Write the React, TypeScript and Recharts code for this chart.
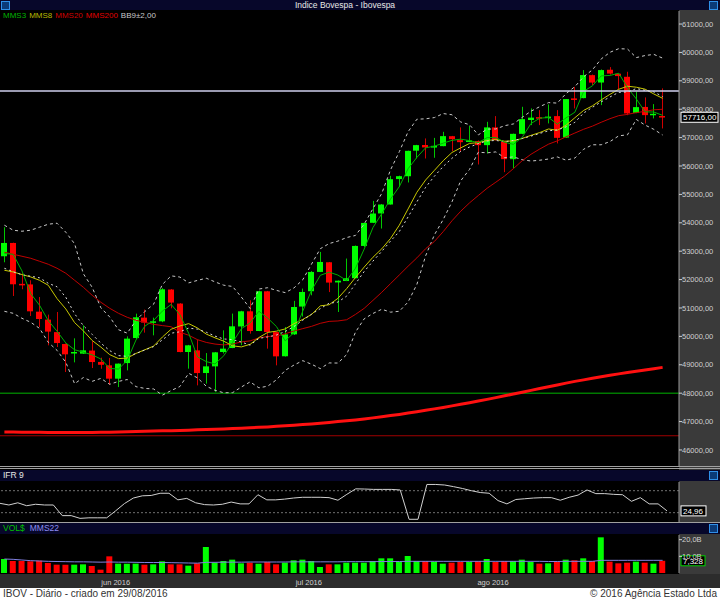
import React from 'react';
import {
  ComposedChart,
  LineChart,
  Bar,
  Line,
  Cell,
  XAxis,
  YAxis,
  ReferenceLine,
} from 'recharts';

// trading days shown (13/05/2016 .. 29/08/2016)
const DATES = [
  '13/05', '16/05', '17/05', '18/05', '19/05', '20/05', '23/05', '24/05', '25/05', '27/05', '30/05', '31/05',
  '01/06', '02/06', '03/06', '06/06', '07/06', '08/06', '09/06', '10/06', '13/06', '14/06', '15/06', '16/06',
  '17/06', '20/06', '21/06', '22/06', '23/06', '24/06', '27/06', '28/06', '29/06', '30/06',
  '01/07', '04/07', '05/07', '06/07', '07/07', '08/07', '11/07', '12/07', '13/07', '14/07', '15/07', '18/07',
  '19/07', '20/07', '21/07', '22/07', '25/07', '26/07', '27/07', '28/07', '29/07',
  '01/08', '02/08', '03/08', '04/08', '05/08', '08/08', '09/08', '10/08', '11/08', '12/08', '15/08', '16/08',
  '17/08', '18/08', '19/08', '22/08', '23/08', '24/08', '25/08', '26/08', '29/08',
];

const OPEN = [
  52822, 53290, 51850, 51830, 50870, 50591, 50150, 49731, 49400, 49392, 49500, 49100,
  48980, 48511, 49060, 49942, 50660, 50490, 50530, 51650, 51155, 49450, 49508, 48710,
  48944, 49450, 49590, 50350, 50883, 50190, 51588, 50150, 49300, 50072,
  51050, 51590, 52270, 52610, 51900, 51950, 52050, 53185, 54000, 54330, 54645, 55540,
  55640, 56540, 56740, 56650, 56700, 57050, 56910, 56850, 56880,
  56735, 57360, 56858, 56240, 57133, 57620, 57720, 57690, 57757, 57000, 58380, 58391,
  59200, 58940, 59390, 59250, 59142, 57873, 58080, 57790, 57760,
];
const HIGH = [
  53844, 53300, 52223, 51976, 51387, 50767, 50859, 49750, 49931, 50390, 49826, 49250,
  49240, 49045, 50000, 50800, 50943, 50660, 51700, 51665, 51170, 49700, 49886, 49413,
  49450, 50213, 50802, 50900, 51271, 51610, 51600, 50160, 50330, 51250,
  51683, 52300, 52974, 52620, 51970, 52741, 53200, 54000, 54771, 54660, 55653, 55660,
  56540, 56745, 56971, 56990, 57204, 57060, 57359, 57415, 56900,
  57556, 57757, 56865, 57140, 58085, 58028, 57968, 58169, 57968, 58360, 58790, 59378,
  59220, 59400, 59484, 59260, 59319, 58614, 58416, 58180, 58733,
];
const LOW = [
  52610, 51423, 51659, 50718, 50330, 49685, 49625, 48744, 49085, 49380, 48885, 48860,
  48299, 48215, 48803, 49900, 50132, 50037, 50500, 50989, 49440, 48863, 48275, 48335,
  48039, 49400, 49585, 49690, 50097, 50185, 49568, 48980, 49290, 50050,
  50700, 51447, 52265, 51560, 50859, 51945, 52045, 53150, 53990, 53798, 54640, 55265,
  55420, 56266, 56265, 56290, 56695, 56523, 56500, 56840, 56054,
  56442, 56900, 55783, 55920, 57120, 57440, 57440, 57500, 56795, 56990, 58028, 58385,
  58850, 58145, 59220, 58709, 57790, 57860, 57500, 57676, 57323,
];
const CLOSE = [
  53290, 51835, 51800, 50883, 50612, 50168, 49766, 49368, 49450, 49508, 49096, 49000,
  48511, 49040, 49921, 50672, 50485, 50530, 51659, 51190, 49449, 49685, 48708, 48944,
  49438, 49568, 50354, 50883, 50189, 51588, 50154, 49297, 50072, 51035,
  51564, 52269, 52621, 51895, 51960, 52047, 53185, 53996, 54327, 54644, 55536, 55642,
  56534, 56735, 56654, 56710, 57052, 56946, 56840, 56900, 56735,
  57360, 56911, 56241, 57133, 57651, 57704, 57690, 57740, 56992, 58356, 58330, 59202,
  58938, 59378, 59255, 59167, 57852, 58074, 57792, 57840, 57716,
];

const MMS3 = [
  52920, 52890, 52308, 51506, 51098, 50554, 50182, 49767, 49528, 49442, 49351, 49201,
  48869, 48850, 49157, 49878, 50359, 50562, 50891, 51126, 50766, 50108, 49281, 49112,
  49030, 49317, 49787, 50268, 50475, 50887, 50644, 50346, 49841, 50135,
  50890, 51623, 52151, 52262, 52159, 51967, 52397, 53076, 53836, 54322, 54836, 55274,
  55904, 56304, 56641, 56700, 56805, 56903, 56946, 56895, 56825,
  56998, 57002, 56837, 56762, 57008, 57496, 57682, 57711, 57474, 57696, 57893, 58629,
  58823, 59173, 59190, 59267, 58758, 58364, 57906, 57902, 57783,
];
const MMS8 = [
  52328, 52270, 52177, 52093, 51976, 51800, 51331, 50965, 50485, 50194, 49856, 49621,
  49358, 49217, 49237, 49400, 49529, 49657, 49977, 50251, 50368, 50449, 50297, 50081,
  49950, 49830, 49667, 49629, 49721, 49959, 50140, 50184, 50263, 50447,
  50598, 50771, 51075, 51113, 51339, 51683, 52072, 52442, 52788, 53084, 53449, 53917,
  54489, 55075, 55509, 55848, 56188, 56476, 56639, 56796, 56822,
  56900, 56932, 56873, 56883, 56971, 57079, 57178, 57304, 57258, 57438, 57700, 57958,
  58119, 58328, 58524, 58702, 58810, 58775, 58707, 58537, 58384,
];
const MMS20 = [
  52963, 52892, 52822, 52751, 52646, 52540, 52399, 52223, 51976, 51729, 51447, 51200,
  50989, 50813, 50672, 50566, 50495, 50425, 50380, 50339, 50147, 50040, 49885, 49788,
  49729, 49699, 49729, 49805, 49842, 49946, 49998, 50013, 50091, 50191,
  50273, 50353, 50460, 50528, 50543, 50586, 50773, 50988, 51269, 51554, 51859, 52163,
  52472, 52765, 53088, 53344, 53689, 54071, 54409, 54702, 54961,
  55216, 55431, 55648, 55907, 56187, 56413, 56598, 56769, 56886, 57027, 57161, 57294,
  57404, 57540, 57667, 57773, 57818, 57880, 57925, 57980, 57998,
];
const MMS200 = [
  46636, 46632, 46628, 46624, 46620, 46618, 46616, 46615, 46616, 46617, 46618, 46622,
  46628, 46635, 46644, 46653, 46659, 46666, 46673, 46680, 46688, 46698, 46708, 46719,
  46730, 46741, 46754, 46768, 46782, 46797, 46812, 46832, 46852, 46874,
  46896, 46918, 46944, 46971, 46999, 47028, 47059, 47094, 47130, 47170, 47210, 47252,
  47298, 47345, 47395, 47447, 47499, 47553, 47608, 47664, 47722,
  47781, 47843, 47906, 47970, 48034, 48098, 48162, 48226, 48290, 48353, 48416, 48469,
  48522, 48575, 48628, 48680, 48725, 48770, 48815, 48862, 48909,
];
const BB_UP = [
  53915, 53739, 53703, 53739, 53844, 53950, 53985, 53668, 53261, 52205, 51729, 51004,
  50685, 50235, 50113, 50565, 50875, 51133, 51830, 52132, 52089, 51884, 51972, 52049,
  51919, 51802, 51758, 51385, 50983, 51667, 51714, 51620, 51540, 51707,
  51995, 52547, 53088, 53268, 53355, 53481, 53555, 53956, 54499, 55036, 55865, 56504,
  57207, 57648, 57662, 57706, 57847, 57805, 57550, 57454, 57095,
  57300, 57305, 57420, 57482, 57715, 57929, 58090, 58233, 58216, 58552, 58794, 59142,
  59386, 59770, 60004, 60132, 60119, 59818, 59890, 59931, 59800,
];
const BB_MID = [
  52399, 52276, 52170, 52118, 52064, 51870, 51747, 51377, 50797, 50377, 50072, 49761,
  49498, 49323, 49296, 49396, 49520, 49640, 49879, 50112, 50162, 50292, 50255, 50147,
  50010, 49908, 49888, 49802, 49691, 49929, 49981, 50046, 50171, 50349,
  50571, 50783, 50977, 51166, 51207, 51418, 51850, 52286, 52652, 52994, 53357, 53692,
  54208, 54738, 55250, 55642, 55982, 56273, 56517, 56668, 56790,
  56881, 56901, 56855, 56902, 56969, 57053, 57147, 57241, 57269, 57380, 57537, 57866,
  58067, 58259, 58431, 58595, 58608, 58728, 58665, 58611, 58446,
];
const BB_LOW = [
  50883, 50813, 50637, 50496, 50284, 49790, 49509, 49086, 48333, 48551, 48417, 48520,
  48313, 48414, 48481, 48229, 48167, 48149, 47930, 48092, 48235, 48700, 48540, 48245,
  48101, 48014, 48018, 48217, 48397, 48189, 48246, 48471, 48803, 48991,
  49145, 49019, 48865, 49065, 49061, 49357, 50147, 50620, 50807, 50956, 50853, 50884,
  51211, 51832, 52840, 53578, 54115, 54739, 55483, 55881, 56485,
  56464, 56497, 56290, 56322, 56223, 56175, 56203, 56247, 56320, 56206, 56280, 56590,
  56748, 56748, 56860, 57062, 57099, 57640, 57442, 57291, 57093,
];

const IFR9 = [
  45.5, 41, 47, 39, 43, 41, 41, 12, 12, 4.5, 6, 6,
  6, 25, 45, 60, 66, 67, 73, 73, 55, 59, 47, 42,
  41, 43, 49, 44, 44, 69, 55, 55, 57, 60,
  62, 62, 62, 61, 54, 70, 85, 84.5, 83.5, 83.5, 83.5, 82,
  2, 2, 97, 97, 95.5, 91, 86, 80, 75,
  73, 53, 44, 56, 58, 60, 61, 61, 54, 62, 68, 82,
  72, 72, 70, 69, 51, 61, 44, 44, 24.96,
];

// financial volume, billions
const VOLUME = [
  8.4, 7.2, 7.2, 7.0, 7.4, 6.0, 5.0, 5.0, 5.0, 5.2, 4.2, 2.0,
  10.0, 5.6, 5.6, 5.6, 5.0, 5.2, 7.0, 5.2, 5.2, 4.4, 5.8, 15.6,
  6.2, 7.2, 8.0, 5.8, 6.2, 5.6, 6.6, 5.2, 6.2, 7.6,
  8.0, 7.2, 3.6, 5.2, 5.2, 6.2, 6.2, 6.2, 7.2, 8.8, 8.8, 6.6,
  10.2, 7.2, 7.2, 6.8, 5.6, 6.2, 6.6, 6.8, 7.2,
  8.4, 6.6, 7.2, 7.2, 8.0, 6.6, 5.6, 5.8, 6.8, 8.0, 7.6, 8.8,
  7.2, 21.4, 6.8, 5.8, 6.2, 6.8, 6.2, 5.6, 7.328,
];
const VOL_MMS22 = [
  8.4, 8.2, 7.8, 7.4, 7.2, 7.0, 6.9, 6.8, 6.7, 6.7, 6.6, 6.5,
  6.6, 6.5, 6.5, 6.4, 6.3, 6.3, 6.3, 6.2, 6.1, 6.0, 5.9, 6.4,
  6.4, 6.5, 6.5, 6.5, 6.6, 6.6, 6.6, 6.6, 6.6, 6.7,
  6.7, 6.7, 6.7, 6.7, 6.7, 6.8, 6.8, 6.8, 6.8, 6.9, 6.9, 6.9,
  7.0, 7.0, 7.0, 7.0, 7.0, 7.0, 7.0, 7.0, 7.0,
  7.0, 7.0, 7.0, 7.0, 7.0, 7.0, 7.0, 6.9, 6.9, 7.0, 7.0, 7.0,
  7.0, 7.6, 7.6, 7.6, 7.6, 7.6, 7.6, 7.6, 7.6,
];

const PRICE_TICKS = [46000, 47000, 48000, 49000, 50000, 51000, 52000, 53000,
  54000, 55000, 56000, 57000, 58000, 59000, 60000, 61000];
const MONTH_TICKS = ['01/06', '01/07', '01/08'];
const MONTH_LABELS: Record<string, string> = { '01/06': 'jun 2016', '01/07': 'jul 2016', '01/08': 'ago 2016' };

const LAST_PRICE = 57716;
const LAST_IFR = 24.96;
const LAST_VOL = 7.328;
const LEVEL_HIGH = 58640;
const LEVEL_SUPPORT = 48000;
const LEVEL_LOW = 46500;

const FONT = "'Liberation Sans', Arial, sans-serif";
const NAVY = '#07072a';
const PANEL_GREY = '#3a3a3a';
const AXIS_TEXT = '#d0d0d0';
const UP = '#00ff00';
const DOWN = '#ff0000';

const rows = DATES.map((d, i) => ({
  d,
  o: OPEN[i],
  h: HIGH[i],
  l: LOW[i],
  c: CLOSE[i],
  range: [LOW[i], HIGH[i]],
  m3: MMS3[i],
  m8: MMS8[i],
  m20: MMS20[i],
  m200: MMS200[i],
  bu: BB_UP[i],
  bm: BB_MID[i],
  bl: BB_LOW[i],
  ifr: IFR9[i],
  vol: VOLUME[i],
  vmm: VOL_MMS22[i],
}));

const X_PAD = { left: 0, right: 12 };

function Candle(props: any) {
  const { x, y, width, height, payload } = props;
  if (!payload) return null;
  const top = height < 0 ? y + height : y;
  const hgt = Math.abs(height);
  const { o, h, l, c } = payload;
  const k = h > l ? hgt / (h - l) : 0;
  const yO = top + (h - o) * k;
  const yC = top + (h - c) * k;
  const up = c >= o;
  const cx = Math.round(x + width / 2) + 0.5;
  return (
    <g>
      <line x1={cx} x2={cx} y1={top} y2={top + hgt} stroke={up ? '#00c800' : '#d00000'} strokeWidth={1} />
      <rect
        x={Math.round(x)}
        y={Math.min(yO, yC)}
        width={width}
        height={Math.max(1.5, Math.abs(yO - yC))}
        fill={up ? UP : DOWN}
      />
    </g>
  );
}

function ValueTag(props: any) {
  const { viewBox, text, border, w } = props;
  if (!viewBox) return null;
  const x = viewBox.x + viewBox.width + 2;
  const y = viewBox.y;
  return (
    <g>
      <rect x={x} y={y - 5} width={w} height={10} fill="#000" stroke={border} strokeWidth={1} />
      <text x={x + 2} y={y + 3} fill="#fff" fontSize={8} fontFamily={FONT}>{text}</text>
    </g>
  );
}

function MonthTick(props: any) {
  const { x, y, payload } = props;
  return (
    <text x={x + 6} y={y + 4} fill={AXIS_TEXT} fontSize={7.5} fontFamily={FONT} textAnchor="middle">
      {MONTH_LABELS[payload.value]}
    </text>
  );
}

function fmtPrice(v: number) {
  return v + ',00';
}

function Icon({ left, top }: { left: number; top: number }) {
  return (
    <div style={{
      position: 'absolute', left, top, width: 7, height: 7,
      border: '1px solid #2f8fe8', background: '#0b3a78',
    }} />
  );
}

function TitleBar({ top, height, children }: { top: number; height: number; children?: React.ReactNode }) {
  return (
    <div style={{
      position: 'absolute', left: 0, top, width: 720, height, background: NAVY,
      fontSize: 8.5, lineHeight: `${height}px`, color: '#e8e8e8', whiteSpace: 'nowrap',
    }}>
      {children}
      <Icon left={709} top={Math.round((height - 9) / 2)} />
    </div>
  );
}

const axisTick = { fill: AXIS_TEXT, fontSize: 7.5, fontFamily: FONT };

export default function App() {
  return (
    <div style={{
      position: 'absolute', left: 0, top: 0, width: 720, height: 600, background: '#000',
      overflow: 'hidden', fontFamily: FONT,
    }}>
      {/* grey axis strip on the right and under the panels */}
      <div style={{ position: 'absolute', left: 679, top: 10, width: 41, height: 578, background: PANEL_GREY }} />
      <div style={{ position: 'absolute', left: 0, top: 574, width: 720, height: 14, background: '#2c2c2c' }} />

      <TitleBar top={0} height={10}>
        <Icon left={1} top={1} />
        <span style={{ position: 'absolute', left: 0, width: 690, textAlign: 'center' }}>Indice Bovespa - Ibovespa</span>
      </TitleBar>

      {/* price panel */}
      <div style={{ position: 'absolute', left: 0, top: 10 }}>
        <ComposedChart width={720} height={458} data={rows} margin={{ top: 1, right: 0, bottom: 1, left: 0 }}>
          <XAxis dataKey="d" hide padding={X_PAD} />
          <YAxis
            orientation="right"
            width={41}
            domain={[45400, 61459]}
            ticks={PRICE_TICKS}
            tickFormatter={fmtPrice}
            tick={axisTick}
            tickSize={3}
            tickMargin={0}
            tickLine={{ stroke: AXIS_TEXT }}
            axisLine={{ stroke: '#9a9a9a' }}
            allowDataOverflow
          />
          <ReferenceLine y={LEVEL_SUPPORT} stroke="#00b400" strokeWidth={1} />
          <ReferenceLine y={LEVEL_LOW} stroke="#a00000" strokeWidth={1} />
          <Line type="linear" dataKey="m200" stroke="#ff1010" strokeWidth={3} dot={false} activeDot={false} isAnimationActive={false} />
          <Bar dataKey="range" barSize={6} shape={<Candle />} isAnimationActive={false} />
          <Line type="linear" dataKey="bu" stroke="#c8c8c8" strokeWidth={1} strokeDasharray="3 3" dot={false} activeDot={false} isAnimationActive={false} />
          <Line type="linear" dataKey="bl" stroke="#c8c8c8" strokeWidth={1} strokeDasharray="3 3" dot={false} activeDot={false} isAnimationActive={false} />
          <Line type="linear" dataKey="m20" stroke="#c00000" strokeWidth={1} dot={false} activeDot={false} isAnimationActive={false} />
          <Line type="linear" dataKey="m8" stroke="#c8c800" strokeWidth={1} dot={false} activeDot={false} isAnimationActive={false} />
          <Line type="linear" dataKey="bm" stroke="#d8d8d8" strokeWidth={1} strokeDasharray="2 3" dot={false} activeDot={false} isAnimationActive={false} />
          <Line type="linear" dataKey="m3" stroke="#00b000" strokeWidth={1} dot={false} activeDot={false} isAnimationActive={false} />
          <ReferenceLine y={LEVEL_HIGH} stroke="#cfcfee" strokeWidth={1.5} />
          <ReferenceLine
            y={LAST_PRICE}
            stroke="none"
            label={<ValueTag text={fmtPrice(LAST_PRICE)} border="#ffffff" w={37} />}
          />
        </ComposedChart>
      </div>

      {/* legend */}
      <div style={{ position: 'absolute', left: 3, top: 11, fontSize: 8, lineHeight: '10px', whiteSpace: 'nowrap' }}>
        <span style={{ color: '#00b400' }}>MMS3</span>
        <span style={{ color: '#b8b800', marginLeft: 3 }}>MMS8</span>
        <span style={{ color: '#d00000', marginLeft: 3 }}>MMS20</span>
        <span style={{ color: '#e00000', marginLeft: 3 }}>MMS200</span>
        <span style={{ color: '#c8c8c8', marginLeft: 3 }}>BB9±2,00</span>
      </div>

      {/* separator */}
      <div style={{ position: 'absolute', left: 0, top: 466, width: 720, height: 1, background: '#a0a0a0' }} />
      <div style={{ position: 'absolute', left: 0, top: 468, width: 720, height: 1, background: '#a0a0a0' }} />

      <TitleBar top={470} height={11}>
        <span style={{ position: 'absolute', left: 3 }}>IFR 9</span>
      </TitleBar>

      {/* IFR panel */}
      <div style={{ position: 'absolute', left: 0, top: 482 }}>
        <LineChart width={720} height={40} data={rows} margin={{ top: 0, right: 0, bottom: 0, left: 0 }}>
          <XAxis dataKey="d" hide padding={X_PAD} />
          <YAxis
            orientation="right"
            width={41}
            domain={[-5.4, 103.7]}
            ticks={[80]}
            tickFormatter={(v: number) => v.toFixed(2).replace('.', ',')}
            tick={axisTick}
            tickSize={3}
            tickMargin={0}
            tickLine={{ stroke: AXIS_TEXT }}
            axisLine={{ stroke: '#9a9a9a' }}
          />
          <ReferenceLine y={80} stroke="#707070" strokeDasharray="2 2" />
          <ReferenceLine y={20} stroke="#707070" strokeDasharray="2 2" />
          <Line type="linear" dataKey="ifr" stroke="#d0d0d0" strokeWidth={1} dot={false} activeDot={false} isAnimationActive={false} />
          <ReferenceLine
            y={LAST_IFR}
            stroke="none"
            label={<ValueTag text={LAST_IFR.toFixed(2).replace('.', ',')} border="#ffffff" w={25} />}
          />
        </LineChart>
      </div>

      <div style={{ position: 'absolute', left: 0, top: 522, width: 720, height: 1, background: '#a0a0a0' }} />

      <TitleBar top={523} height={11}>
        <span style={{ position: 'absolute', left: 3 }}>
          <span style={{ color: '#00c000' }}>VOL$</span>
          <span style={{ color: '#8c8cf0', marginLeft: 5 }}>MMS22</span>
        </span>
      </TitleBar>

      {/* volume panel */}
      <div style={{ position: 'absolute', left: 0, top: 535 }}>
        <ComposedChart width={720} height={53} data={rows} margin={{ top: 0, right: 0, bottom: 0, left: 0 }}>
          <XAxis
            dataKey="d"
            padding={X_PAD}
            height={15}
            ticks={MONTH_TICKS}
            interval={0}
            tick={<MonthTick />}
            tickLine={false}
            axisLine={false}
          />
          <YAxis
            orientation="right"
            width={41}
            domain={[0, 22.8]}
            ticks={[10, 20]}
            tickFormatter={(v: number) => v.toFixed(1).replace('.', ',') + 'B'}
            tick={axisTick}
            tickSize={3}
            tickMargin={0}
            tickLine={{ stroke: AXIS_TEXT }}
            axisLine={{ stroke: '#9a9a9a' }}
          />
          <Bar dataKey="vol" barSize={6} isAnimationActive={false}>
            {rows.map((r) => (
              <Cell key={r.d} fill={r.c >= r.o ? UP : DOWN} />
            ))}
          </Bar>
          <Line type="linear" dataKey="vmm" stroke="#8080e0" strokeWidth={1} dot={false} activeDot={false} isAnimationActive={false} />
          <ReferenceLine
            y={LAST_VOL}
            stroke="none"
            label={<ValueTag text={LAST_VOL.toFixed(3).replace('.', ',')} border="#00d000" w={24} />}
          />
        </ComposedChart>
      </div>

      {/* footer */}
      <div style={{
        position: 'absolute', left: 0, top: 588, width: 720, height: 12, background: '#ffffff',
        fontSize: 10, lineHeight: '12px', color: '#333',
      }}>
        <span style={{ position: 'absolute', left: 3 }}>IBOV - Diário - criado em 29/08/2016</span>
        <span style={{ position: 'absolute', right: 3 }}>© 2016 Agência Estado Ltda</span>
      </div>
    </div>
  );
}
